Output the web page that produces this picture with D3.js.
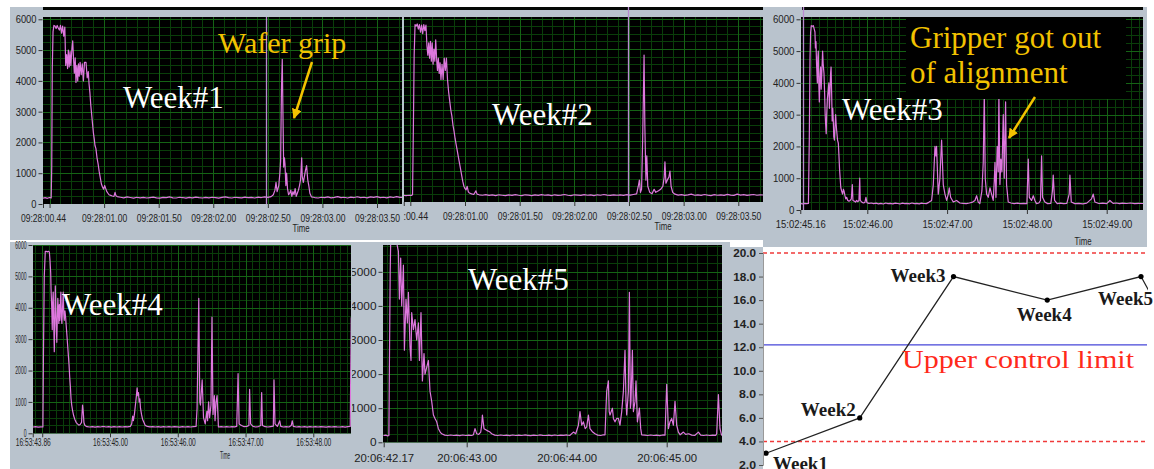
<!DOCTYPE html>
<html><head><meta charset="utf-8">
<script src="https://cdn.jsdelivr.net/npm/d3@7"></script>
<style>body{margin:0;background:#fff;overflow:hidden}svg{display:block}</style>
</head><body><svg id="c" width="1154" height="469"></svg>
<script>
// ---------------- DATA ----------------
// Week#1 trace: [seconds within 09:28, counts]
const week1 = [
[0.44,190],[0.46,205],[0.48,185],[0.50,210],[0.515,195],[0.52,1200],[0.525,4400],[0.532,5600],[0.54,5800],[0.55,5780],[0.56,5700],[0.57,5800],[0.58,5720],[0.59,5650],[0.60,5800],[0.61,5550],[0.62,5780],[0.63,5450],[0.64,5750],[0.648,4500],[0.657,4850],[0.665,4400],[0.672,5000],[0.68,4450],[0.688,4950],[0.695,4500],[0.705,5050],[0.712,5300],[0.72,4700],[0.727,4250],[0.735,4750],[0.742,3950],[0.75,4500],[0.758,4000],[0.765,4550],[0.772,4150],[0.78,4600],[0.79,4200],[0.80,4550],[0.81,4000],[0.82,4600],[0.834,4600],[0.845,4100],[0.855,4300],[0.862,3900],[0.87,3600],[0.878,3200],[0.886,2900],[0.894,2600],[0.902,2300],[0.91,2100],[0.916,1900],[0.925,1800],[0.935,1500],[0.945,1300],[0.955,1050],[0.965,850],[0.975,650],[0.985,550],[0.995,480],[1.005,600],[1.015,500],[1.025,400],[1.035,350],[1.045,300],[1.06,280],[1.075,260],[1.09,250],[1.10,380],[1.108,270],[1.12,240],
[1.15,220],[1.18,200],[1.21,230],[1.24,210],[1.27,190],[1.30,220],[1.33,200],[1.36,215],[1.39,195],[1.42,210],[1.45,225],[1.48,200],[1.51,190],[1.54,215],[1.57,205],[1.60,230],[1.63,200],[1.66,195],[1.69,220],[1.72,210],[1.75,190],[1.78,215],[1.81,200],[1.84,225],[1.87,205],[1.90,195],[1.93,215],[1.96,200],[1.99,220],[2.02,205],[2.05,190],[2.08,215],[2.11,230],[2.14,205],[2.17,195],[2.20,220],[2.23,210],[2.26,200],[2.29,225],[2.32,205],[2.35,215],[2.38,195],[2.41,225],[2.44,210],[2.47,230],[2.50,215],[2.53,240],
[2.55,300],[2.565,450],[2.575,700],[2.585,400],[2.60,600],[2.61,1000],[2.617,1400],[2.625,3800],[2.632,4700],[2.64,2500],[2.645,1200],[2.652,1500],[2.657,1300],[2.665,600],[2.672,1000],[2.68,500],[2.69,300],[2.70,350],[2.71,450],[2.72,250],[2.73,400],[2.74,300],[2.75,500],[2.76,250],[2.77,350],[2.78,450],[2.79,600],[2.80,800],[2.81,1500],[2.815,900],[2.825,700],[2.835,900],[2.845,1100],[2.855,1250],[2.865,800],[2.875,600],[2.885,350],[2.90,230],
[2.93,210],[2.96,195],[2.99,220],[3.02,205],[3.05,230],[3.08,200],[3.11,215],[3.14,240],[3.17,205],[3.20,220],[3.23,195],[3.26,225],[3.29,210],[3.32,235],[3.35,205],[3.38,220],[3.41,200],[3.44,230],[3.47,215],[3.50,240],[3.53,205],[3.56,220],[3.59,200],[3.62,230],[3.65,210],[3.68,240],[3.71,215],[3.74,220]
];
// Week#2 trace
const week2 = [
[0.43,210],[0.46,190],[0.49,205],[0.51,200],[0.52,220],[0.528,2500],[0.535,4800],[0.543,5800],[0.553,5750],[0.563,5820],[0.573,5650],[0.583,5800],[0.593,5550],[0.603,5780],[0.613,5500],[0.623,5800],[0.633,5600],[0.643,5780],[0.652,5100],[0.66,4800],[0.668,5200],[0.676,4700],[0.684,5250],[0.692,4600],[0.70,5200],[0.708,4500],[0.716,5000],[0.724,4600],[0.732,5300],[0.74,4700],[0.748,4300],[0.756,4700],[0.764,4200],[0.772,4550],[0.78,4000],[0.79,4500],[0.80,4000],[0.81,4700],[0.82,4300],[0.83,4700],[0.84,4000],[0.85,3600],[0.86,3300],[0.87,3000],[0.88,2800],[0.89,2500],[0.90,2300],[0.91,2050],[0.92,1850],[0.93,1650],[0.94,1450],[0.95,1250],[0.96,1050],[0.97,850],[0.98,650],[0.99,500],[1.00,420],[1.01,380],[1.02,500],[1.03,320],[1.04,280],[1.06,250],[1.08,230],[1.10,350],[1.11,240],[1.13,220],
[1.16,205],[1.19,225],[1.22,200],[1.25,215],[1.28,195],[1.31,220],[1.34,205],[1.37,190],[1.40,215],[1.43,200],[1.46,225],[1.49,205],[1.52,195],[1.55,220],[1.58,210],[1.61,190],[1.64,215],[1.67,200],[1.70,225],[1.73,205],[1.76,215],[1.79,195],[1.82,220],[1.85,200],[1.88,210],[1.91,230],[1.94,205],[1.97,195],[2.00,220],[2.03,210],[2.06,200],[2.09,225],[2.12,205],[2.15,215],[2.18,195],[2.21,220],[2.24,205],[2.27,230],[2.30,210],[2.33,200],[2.36,220],[2.39,205],[2.42,215],[2.45,200],[2.48,225],[2.51,210],[2.54,230],[2.57,250],
[2.585,500],[2.595,700],[2.605,300],[2.615,400],[2.625,2000],[2.638,4800],[2.645,2500],[2.655,700],[2.663,1500],[2.672,500],[2.69,300],[2.71,250],[2.73,400],[2.745,300],[2.77,350],[2.79,400],[2.81,500],[2.822,800],[2.829,1300],[2.838,600],[2.85,700],[2.865,800],[2.875,1000],[2.885,500],[2.90,300],[2.92,240],
[2.95,210],[2.98,225],[3.01,200],[3.04,215],[3.07,240],[3.10,205],[3.13,220],[3.16,200],[3.19,230],[3.22,210],[3.25,195],[3.28,225],[3.31,205],[3.34,220],[3.37,200],[3.40,235],[3.43,210],[3.46,200],[3.49,240],[3.52,210],[3.55,225],[3.58,200],[3.61,215],[3.64,230],[3.67,205],[3.70,220],[3.74,210]
];
// Week#3 trace: [seconds within 15:02, counts]
const week3 = [
[45.165,200],[45.19,190],[45.215,210],[45.24,200],[45.262,205],[45.273,2200],[45.282,4800],[45.29,5600],[45.298,5800],[45.31,5780],[45.324,5800],[45.334,5700],[45.344,5600],[45.35,5100],[45.357,5300],[45.364,4600],[45.374,4000],[45.38,4800],[45.386,5000],[45.392,4000],[45.399,3400],[45.407,4200],[45.415,4500],[45.422,3800],[45.43,4300],[45.44,5000],[45.447,4600],[45.457,4300],[45.466,3600],[45.472,3000],[45.478,2700],[45.485,2400],[45.491,3000],[45.50,3500],[45.511,3800],[45.518,4000],[45.525,3200],[45.532,3700],[45.54,4300],[45.546,4500],[45.553,3700],[45.56,2800],[45.567,3200],[45.574,2800],[45.58,2300],[45.588,2200],[45.595,2600],[45.603,3000],[45.61,2700],[45.616,2500],[45.627,2200],[45.637,2100],[45.645,1700],[45.652,1300],[45.66,1000],[45.668,700],[45.678,600],[45.69,500],[45.70,650],[45.708,600],[45.72,450],[45.73,350],[45.741,400],[45.755,300],[45.77,280],[45.785,300],[45.80,350],[45.812,800],[45.82,300],[45.837,280],[45.852,250],[45.866,300],[45.88,260],[45.895,300],[45.905,1000],[45.912,300],[45.93,250],[45.95,220],[45.97,240],[45.983,400],[45.995,230],[46.02,210],[46.05,220],
[46.08,200],[46.11,215],[46.14,195],[46.17,210],[46.20,190],[46.23,220],[46.26,200],[46.29,210],[46.32,195],[46.35,215],[46.38,205],[46.41,190],[46.44,215],[46.47,200],[46.50,210],[46.53,195],[46.56,220],[46.59,200],[46.62,210],[46.65,195],[46.68,215],[46.71,205],[46.74,200],[46.77,240],
[46.806,300],[46.827,800],[46.848,2000],[46.86,1700],[46.868,2000],[46.889,500],[46.91,1000],[46.931,2200],[46.952,800],[46.973,500],[46.994,300],[47.015,500],[47.027,700],[47.044,400],[47.077,250],[47.119,300],[47.16,220],[47.20,210],[47.24,200],[47.28,220],[47.32,250],[47.349,300],[47.37,450],[47.39,250],[47.41,200],[47.436,600],[47.453,1500],[47.466,3700],[47.478,1000],[47.495,500],[47.516,400],[47.537,700],[47.557,500],[47.578,300],[47.591,900],[47.60,1500],[47.612,400],[47.628,2000],[47.641,1200],[47.649,3700],[47.662,800],[47.674,1600],[47.687,1200],[47.704,3000],[47.716,1000],[47.733,3400],[47.745,800],[47.766,250],[47.80,220],[47.84,200],[47.88,215],[47.92,200],[47.96,210],[48.00,200],
[48.017,1600],[48.03,400],[48.058,300],[48.08,450],[48.10,300],[48.12,200],[48.15,220],[48.17,300],[48.184,1700],[48.196,400],[48.225,250],[48.26,200],[48.30,210],[48.32,600],[48.33,1100],[48.347,300],[48.38,200],[48.42,215],[48.46,200],[48.50,210],[48.53,500],[48.539,1100],[48.556,250],[48.60,200],[48.65,210],[48.70,195],[48.75,215],[48.81,350],[48.831,500],[48.852,250],[48.90,205],[48.95,215],[49.00,200],[49.04,300],[49.08,210],[49.12,220],[49.16,200],[49.20,215],[49.25,205],[49.30,220],[49.35,200],[49.40,210],[49.45,205],[49.48,200]
];
// Week#4 trace: [seconds within 16:53, counts]
const week4 = [
[43.86,200],[43.90,210],[43.94,195],[43.98,205],[44.01,200],[44.018,2500],[44.03,5000],[44.045,5800],[44.06,5800],[44.075,5780],[44.09,5800],[44.105,5780],[44.115,5500],[44.125,5100],[44.13,4600],[44.14,4000],[44.148,3300],[44.155,4200],[44.162,4500],[44.17,3500],[44.178,2600],[44.186,3600],[44.193,4700],[44.20,4000],[44.208,3400],[44.215,2900],[44.222,3600],[44.23,4300],[44.238,3900],[44.245,3500],[44.253,4100],[44.26,3600],[44.268,4200],[44.275,4500],[44.283,3700],[44.29,3500],[44.30,4000],[44.31,4500],[44.318,3800],[44.325,3600],[44.335,3900],[44.345,3700],[44.355,3400],[44.365,3100],[44.375,2800],[44.385,2500],[44.395,2200],[44.405,1800],[44.415,1500],[44.425,1100],[44.435,900],[44.45,700],[44.465,550],[44.48,450],[44.50,350],[44.52,300],[44.54,260],[44.56,280],[44.58,350],[44.595,900],[44.605,700],[44.615,350],[44.63,250],[44.66,210],
[44.70,200],[44.74,215],[44.78,195],[44.82,210],[44.86,200],[44.90,220],[44.94,200],[44.98,210],[45.02,195],[45.06,215],[45.10,200],[45.14,210],[45.18,200],[45.22,215],[45.26,205],[45.30,220],[45.32,300],[45.335,550],[45.345,400],[45.36,600],[45.375,900],[45.39,1200],[45.40,1450],[45.41,1200],[45.42,1300],[45.43,1000],[45.44,1100],[45.45,800],[45.465,600],[45.48,450],[45.50,350],[45.52,250],[45.55,220],
[45.59,205],[45.63,215],[45.67,200],[45.71,210],[45.75,195],[45.79,215],[45.83,200],[45.87,210],[45.91,200],[45.95,215],[45.99,205],[46.03,195],[46.07,210],[46.11,200],[46.15,215],[46.19,200],[46.23,210],[46.27,220],
[46.285,800],[46.31,4300],[46.325,1000],[46.335,900],[46.36,1700],[46.375,800],[46.38,500],[46.405,300],[46.43,700],[46.44,400],[46.455,1000],[46.47,500],[46.49,900],[46.505,3700],[46.52,600],[46.54,1200],[46.55,400],[46.565,1000],[46.58,1200],[46.60,200],
[46.64,210],[46.68,200],[46.72,215],[46.76,200],[46.80,210],[46.84,205],[46.87,220],[46.89,1900],[46.905,300],[46.94,250],[46.98,210],[47.02,220],[47.05,250],[47.06,1400],[47.075,300],[47.11,220],[47.15,200],[47.19,215],[47.225,250],[47.238,1300],[47.25,250],[47.29,210],[47.33,200],[47.37,215],[47.41,230],[47.42,1700],[47.435,300],[47.47,220],[47.505,400],[47.52,220],[47.56,200],[47.60,215],[47.64,200],[47.675,250],[47.69,400],[47.705,220],[47.75,200],[47.79,215],[47.83,200],[47.87,210],[47.91,195],[47.95,215],[47.99,200],[48.03,210],[48.07,200],[48.11,215],[48.15,205],[48.19,195],[48.23,210],[48.27,200],[48.31,215],[48.35,205],[48.39,200],[48.43,210],[48.47,195],[48.51,215],[48.545,220],[48.56,3700]
];
// Week#5 trace: [seconds within 20:06, counts]
const week5 = [
[42.167,200],[42.19,210],[42.21,190],[42.222,200],[42.227,2200],[42.235,5000],[42.24,5900],[42.25,5900],[42.26,5900],[42.27,5850],[42.28,5900],[42.29,5900],[42.30,5850],[42.317,5600],[42.327,4200],[42.34,5400],[42.35,4000],[42.367,5200],[42.377,2700],[42.393,4200],[42.407,3500],[42.417,4400],[42.433,2800],[42.443,2400],[42.45,3800],[42.467,3300],[42.483,3600],[42.50,3000],[42.517,3500],[42.527,2400],[42.543,3800],[42.557,1800],[42.573,2600],[42.583,2000],[42.60,2200],[42.617,2400],[42.633,1500],[42.65,1200],[42.667,800],[42.683,700],[42.70,600],[42.717,400],[42.735,300],[42.75,250],
[42.78,210],[42.81,200],[42.84,215],[42.87,200],[42.90,210],[42.93,195],[42.96,215],[42.99,200],[43.02,210],[43.05,200],[43.067,220],[43.083,400],[43.10,250],[43.12,230],[43.14,300],[43.15,500],[43.157,800],[43.173,400],[43.20,350],[43.233,300],[43.25,250],
[43.28,210],[43.31,200],[43.34,215],[43.37,200],[43.40,210],[43.43,195],[43.46,215],[43.49,200],[43.52,210],[43.55,200],[43.58,215],[43.61,205],[43.64,195],[43.67,210],[43.70,200],[43.73,215],[43.76,205],[43.79,200],[43.82,210],[43.85,195],[43.88,215],[43.91,200],[43.94,210],[43.97,205],[44.00,215],[44.03,200],[44.067,300],[44.09,250],[44.117,500],[44.133,900],[44.15,500],[44.167,600],[44.185,400],[44.20,450],[44.217,800],[44.233,400],[44.26,300],[44.283,250],[44.31,210],[44.34,200],[44.36,215],[44.383,220],
[44.393,1000],[44.40,1500],[44.417,1800],[44.425,900],[44.433,800],[44.457,1000],[44.467,700],[44.483,600],[44.50,700],[44.517,700],[44.533,500],[44.55,900],[44.567,1500],[44.583,2700],[44.593,1200],[44.60,800],[44.617,1500],[44.627,4400],[44.637,1000],[44.643,1200],[44.657,2700],[44.667,900],[44.683,1200],[44.693,1800],[44.707,600],[44.727,1000],[44.74,400],[44.75,220],
[44.78,210],[44.81,200],[44.84,215],[44.87,200],[44.90,210],[44.93,195],[44.96,215],[44.983,210],[45.00,1700],[45.017,400],[45.033,600],[45.05,700],[45.067,500],[45.083,1200],[45.10,500],[45.117,300],[45.135,220],[45.167,300],[45.19,230],[45.22,250],[45.25,210],[45.28,200],[45.317,300],[45.34,210],[45.37,200],[45.40,215],[45.43,200],[45.46,210],[45.49,205],[45.50,250],[45.517,1400],[45.533,400],[45.55,200]
];
// cursor positions (seconds)
const cursorTimes = [2.48, 2.488, 45.19];

// axis ticks
const countTicks = [0,1000,2000,3000,4000,5000,6000];
const countTickLabels = ["0","1000","2000","3000","4000","5000","6000"];
const w1Ticks = [0.44,0.5,1.0,1.5,2.0,2.5,3.0,3.5];
const w1TickLabels = ["09:28:00.44","","09:28:01.00","09:28:01.50","09:28:02.00","09:28:02.50","09:28:03.00","09:28:03.50"];
const w2Ticks = [0.44,0.5,1.0,1.5,2.0,2.5,3.0,3.5];
const w2TickLabels = [":00.44","","09:28:01.00","09:28:01.50","09:28:02.00","09:28:02.50","09:28:03.00","09:28:03.50"];
const w3Ticks = [45.16,46,47,48,49];
const w3TickLabels = ["15:02:45.16","15:02:46.00","15:02:47.00","15:02:48.00","15:02:49.00"];
const w4Ticks = [43.86,44,45,46,47,48];
const w4TickLabels = ["16:53:43.86","","16:53:45.00","16:53:46.00","16:53:47.00","16:53:48.00"];
const w5Ticks = [42.17,43,44,45];
const w5TickLabels = ["20:06:42.17","20:06:43.00","20:06:44.00","20:06:45.00"];

// control chart
const ccWeeks = ["Week1","Week2","Week3","Week4","Week5"];
const ccValues = [3.0, 6.0, 18.0, 16.0, 18.0, 3.5];
const ccTicks = [2,4,6,8,10,12,14,16,18,20];
const uclValue = 12.2;
const limitValues = [20.0, 4.0];

// ---------------- STYLE / LAYOUT ----------------
const FRAME = "#b9c3cd", GRID_MAJ = "#156315", GRID_MIN = "#0a3e0a", TRACE = "#dd77dd", CURSOR = "#b98ad0";
const GOLD = "#f2c200";
const svg = d3.select("#c");
const defs = svg.append("defs");

function drawPanel(c){
  const g = svg.append("g");
  g.append("rect").attr("x",c.frame[0]).attr("y",c.frame[1]).attr("width",c.frame[2]-c.frame[0]).attr("height",c.frame[3]-c.frame[1]).attr("fill",FRAME);
  const [px0,py0,px1,py1] = c.plot;
  const x = d3.scaleLinear().domain(c.xd).range(c.xr);
  const y = d3.scaleLinear().domain([0,6000]).range(c.yr);
  if (c.strip) g.append("rect").attr("x",c.strip[0]).attr("y",c.strip[1]).attr("width",c.strip[2]-c.strip[0]).attr("height",c.strip[3]-c.strip[1]).attr("fill","#050805");
  g.append("rect").attr("x",px0).attr("y",py0).attr("width",px1-px0).attr("height",py1-py0).attr("fill","#000");
  defs.append("clipPath").attr("id","cp"+c.id).append("rect").attr("x",px0).attr("y",py0).attr("width",px1-px0).attr("height",py1-py0);
  const pg = g.append("g").attr("clip-path",`url(#cp${c.id})`);
  const t0 = x.invert(px0), t1 = x.invert(px1);
  const mstep = c.xStep / c.xMinor;
  const minorX = d3.range(Math.ceil(t0/mstep), Math.floor(t1/mstep)+1).map(k=>k*mstep);
  const majorX = d3.range(Math.ceil(t0/c.xStep), Math.floor(t1/c.xStep)+1).map(k=>k*c.xStep);
  const vTop = y.invert(py0);
  const minorY = d3.range(0, vTop, 250);
  pg.selectAll(".mx").data(minorX).join("line").attr("x1",d=>Math.round(x(d))+0.5).attr("x2",d=>Math.round(x(d))+0.5).attr("y1",py0).attr("y2",py1).attr("stroke",GRID_MIN);
  pg.selectAll(".my").data(minorY).join("line").attr("y1",d=>Math.round(y(d))+0.5).attr("y2",d=>Math.round(y(d))+0.5).attr("x1",px0).attr("x2",px1).attr("stroke",GRID_MIN);
  pg.selectAll(".Mx").data(majorX).join("line").attr("x1",d=>Math.round(x(d))+0.5).attr("x2",d=>Math.round(x(d))+0.5).attr("y1",py0).attr("y2",py1).attr("stroke",GRID_MAJ);
  pg.selectAll(".My").data(countTicks).join("line").attr("y1",d=>Math.round(y(d))+0.5).attr("y2",d=>Math.round(y(d))+0.5).attr("x1",px0).attr("x2",px1).attr("stroke",GRID_MAJ);
  if (c.cursor!==undefined){
    g.append("line").attr("x1",Math.round(x(c.cursor))+0.5).attr("x2",Math.round(x(c.cursor))+0.5).attr("y1",c.cursorTop).attr("y2",py1).attr("stroke",CURSOR).attr("stroke-width",1.3);
  }
  const line = d3.line().x(d=>x(d[0])).y(d=>y(d[1]));
  pg.append("path").datum(c.data).attr("d",line).attr("fill","none").attr("stroke",TRACE).attr("stroke-width",1.2).attr("stroke-linejoin","round");
  if (c.boxTop) g.append("rect").attr("x",c.boxTop[0]).attr("y",c.boxTop[1]).attr("width",c.boxTop[2]-c.boxTop[0]).attr("height",c.boxTop[3]-c.boxTop[1]).attr("fill","#000");
  // x axis
  const xa = d3.axisBottom(x).tickValues(c.ticks).tickFormat((d,i)=>c.labels[i]).tickSize(c.tickLen).tickPadding(c.xPad);
  const xg = g.append("g").attr("transform",`translate(0,${py1})`).call(xa);
  xg.select(".domain").remove();
  xg.selectAll("line").attr("stroke","#333");
  xg.selectAll("text").attr("fill","#222").style("font-family","Liberation Sans, Arial, sans-serif").style("font-size",c.fs+"px")
    .each(function(d,i){
      const s = c.labels[i]; if (!s) return;
      const el = d3.select(this);
      el.attr("textLength", c.xLabelW * s.length / 11).attr("lengthAdjust","spacingAndGlyphs");
      if (c.firstStart && i===0) el.attr("text-anchor","start").attr("x", c.firstStart - x(d));
    });
  // y axis
  if (c.showY){
    const yt = countTicks.filter(v => y(v) >= py0 - 1);
    const ya = d3.axisLeft(y).tickValues(yt).tickFormat(d=>countTickLabels[countTicks.indexOf(d)]).tickSize(4).tickPadding(c.yPad);
    const yg = g.append("g").attr("transform",`translate(${px0-0.5},0)`).call(ya);
    yg.select(".domain").remove();
    yg.selectAll("line").attr("stroke","#333");
    yg.selectAll("text").attr("fill","#222").style("font-family","Liberation Sans, Arial, sans-serif").style("font-size",c.fs+"px")
      .each(function(d){ const s = countTickLabels[countTicks.indexOf(d)]; d3.select(this).attr("textLength",s.length*c.yDigitW).attr("lengthAdjust","spacingAndGlyphs"); });
  }
  if (c.timeLabel) g.append("text").attr("x",c.timeLabel[0]).attr("y",c.timeLabel[1]).attr("text-anchor","middle").attr("fill","#222")
    .style("font-family","Liberation Sans, Arial, sans-serif").style("font-size",c.fs+"px").attr("textLength",c.timeW).attr("lengthAdjust","spacingAndGlyphs").text("Time");
}

const panels = {
  w1:{id:1,data:week1,frame:[10,7,402,240],strip:[43,7,402,10],plot:[43,17,402,204],xd:[0.44,3.5],xr:[43,377],yr:[204,19.3],xStep:0.5,xMinor:5,
      ticks:w1Ticks,labels:w1TickLabels,tickLen:4,xPad:6,fs:11,xLabelW:45,showY:true,yPad:2,yDigitW:5.2,timeLabel:[301,232],timeW:17,cursor:cursorTimes[0],cursorTop:17},
  w2:{id:2,data:week2,frame:[402,7,763,240],strip:[402,7,763,10],plot:[404,17,763,202],xd:[1.0,3.5],xr:[465,738.3],yr:[201.5,18.5],xStep:0.5,xMinor:5,
      ticks:w2Ticks,labels:w2TickLabels,firstStart:403,tickLen:4,xPad:6,fs:11,xLabelW:45,showY:false,timeLabel:[663,230],timeW:17,cursor:cursorTimes[1],cursorTop:7},
  w3:{id:3,data:week3,frame:[763,7,1147,247],strip:[802,7,1143,10],plot:[801,17,1143,210],xd:[46,49],xr:[867.3,1106.7],yr:[210,19.3],xStep:1,xMinor:10,
      ticks:w3Ticks,labels:w3TickLabels,tickLen:4,xPad:6,fs:11,xLabelW:50,showY:true,yPad:2,yDigitW:5.4,timeLabel:[1083,245],timeW:17,cursor:cursorTimes[2],cursorTop:7,
      boxTop:[906,17,1126,99]},
  w4:{id:4,data:week4,frame:[10,242,352,469],plot:[33,245,351,433.3],xd:[45,48],xr:[110,313.3],yr:[433.3,245],xStep:1,xMinor:10,
      ticks:w4Ticks,labels:w4TickLabels,tickLen:4,xPad:2,fs:10,xLabelW:35,showY:true,yPad:2,yDigitW:2.8,timeLabel:[225,459],timeW:10},
  w5:{id:5,data:week5,frame:[352,242,730,469],plot:[383,245,722,442.3],xd:[43,45],xr:[466.7,666.7],yr:[442.3,237.7],xStep:1,xMinor:10,
      ticks:w5Ticks,labels:w5TickLabels,tickLen:5,xPad:7,fs:11,xLabelW:60,showY:true,yPad:2,yDigitW:6.6}
};
drawPanel(panels.w2);
drawPanel(panels.w1);
drawPanel(panels.w3);
drawPanel(panels.w5);
drawPanel(panels.w4);

// ---------------- CONTROL CHART ----------------
(function(){
  const g = svg.append("g");
  g.append("rect").attr("x",725).attr("y",247).attr("width",38).attr("height",222).attr("fill",FRAME);
  g.append("rect").attr("x",763).attr("y",248).attr("width",384).attr("height",221).attr("fill","#fff");
  const x = d3.scaleLinear().domain([0,4]).range([766,1141]);
  const y = d3.scaleLinear().domain([2,20]).range([465,253]);
  defs.append("clipPath").attr("id","cpcc").append("rect").attr("x",763).attr("y",248).attr("width",385).attr("height",221);
  const pg = g.append("g").attr("clip-path","url(#cpcc)");
  pg.selectAll(".lim").data(limitValues).join("line").attr("x1",763).attr("x2",1147).attr("y1",d=>y(d)).attr("y2",d=>y(d))
    .attr("stroke","#f03a3a").attr("stroke-width",1.6).attr("stroke-dasharray","4,3");
  pg.append("line").attr("x1",763).attr("x2",1147).attr("y1",y(uclValue)).attr("y2",y(uclValue)).attr("stroke","#4646d8").attr("stroke-width",1.3);
  const line = d3.line().x((d,i)=>x(i)).y(d=>y(d));
  pg.append("path").datum(ccValues).attr("d",line).attr("fill","none").attr("stroke","#222").attr("stroke-width",1.2);
  pg.selectAll("circle").data(ccValues.slice(0,5)).join("circle").attr("cx",(d,i)=>x(i)).attr("cy",d=>y(d)).attr("r",2.6).attr("fill","#000");
  const ya = d3.axisLeft(y).tickValues(ccTicks).tickFormat(d3.format(".1f")).tickSize(4).tickPadding(3);
  const yg = g.append("g").attr("transform","translate(763,0)").call(ya);
  yg.select(".domain").attr("stroke","#999");
  yg.selectAll("line").attr("stroke","#555");
  yg.selectAll("text").attr("fill","#222").style("font-family","Liberation Sans, Arial, sans-serif").style("font-size","11px").style("font-weight","bold")
    .each(function(d){ const s=d3.format(".1f")(d); d3.select(this).attr("textLength",s.length*5.7).attr("lengthAdjust","spacingAndGlyphs"); });
  const labOff = [[7,17,"start"],[-4,-2,"end"],[-8,5,"end"],[-3,21,"middle"],[12,28,"end"]];
  g.selectAll(".wl").data(ccWeeks).join("text").attr("x",(d,i)=>x(i)+labOff[i][0]).attr("y",(d,i)=>y(ccValues[i])+labOff[i][1])
    .attr("text-anchor",(d,i)=>labOff[i][2]).attr("fill","#1a1a1a").style("font-family","Liberation Serif, Times New Roman, serif").style("font-size","19px").style("font-weight","bold").text(d=>d);
  g.append("text").attr("x",902).attr("y",368).attr("fill","#ff2a1a").style("font-family","Liberation Serif, Times New Roman, serif").style("font-size","25px")
    .attr("textLength",232).attr("lengthAdjust","spacingAndGlyphs").text("Upper control limit");
})();

// ---------------- ANNOTATIONS ----------------
const serif = "Liberation Serif, Times New Roman, serif";
const weekTitles = [["Week#1",123,108],["Week#2",492,125],["Week#3",842,120],["Week#4",62,315],["Week#5",468,290]];
svg.selectAll(".wt").data(weekTitles).join("text").attr("x",d=>d[1]).attr("y",d=>d[2]).attr("fill","#fff")
  .style("font-family",serif).style("font-size","31px").text(d=>d[0]);
svg.append("text").attr("x",218).attr("y",53).attr("fill",GOLD).style("font-family",serif).style("font-size","30px").text("Wafer grip");
svg.append("text").attr("x",910).attr("y",48).attr("fill",GOLD).style("font-family",serif).style("font-size","31px").text("Gripper got out");
svg.append("text").attr("x",910).attr("y",83).attr("fill",GOLD).style("font-family",serif).style("font-size","31px").text("of alignment");
defs.append("marker").attr("id","ah").attr("viewBox","0 0 10 10").attr("refX",9).attr("refY",5).attr("markerWidth",4).attr("markerHeight",4).attr("orient","auto")
  .append("path").attr("d","M0,0L10,5L0,10z").attr("fill",GOLD);
const arrows = [[312,62,294,118],[1035,97,1009,138]];
svg.selectAll(".ar").data(arrows).join("line").attr("x1",d=>d[0]).attr("y1",d=>d[1]).attr("x2",d=>d[2]).attr("y2",d=>d[3])
  .attr("stroke",GOLD).attr("stroke-width",2.5).attr("marker-end","url(#ah)");
</script></body></html>
